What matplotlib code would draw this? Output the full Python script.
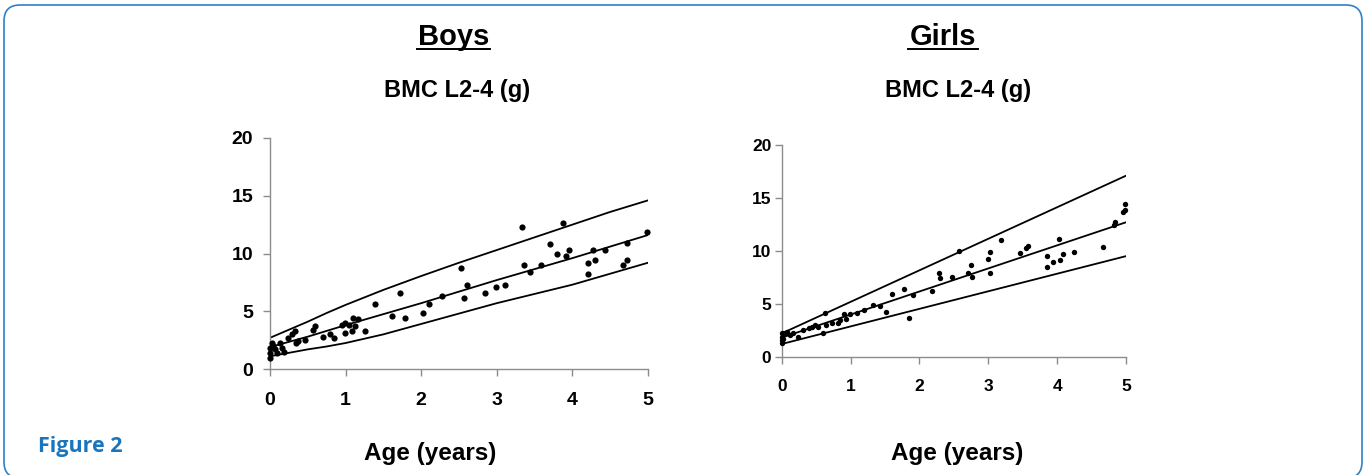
import matplotlib
matplotlib.use("Agg")
import matplotlib.pyplot as plt
from matplotlib.patches import FancyBboxPatch

plt.rcParams['font.family'] = ['Liberation Sans', 'DejaVu Sans']
plt.rcParams['font.weight'] = 'bold'

# reference curves (age in years, BMC in g)
boys_curve_x = [0, 0.25, 0.5, 0.75, 1, 1.5, 2, 2.5, 3, 3.5, 4, 4.5, 5]
boys_upper = [2.7, 3.4, 4.1, 4.85, 5.55, 6.85, 8.05, 9.2, 10.3, 11.4, 12.5, 13.6, 14.6]
boys_mid = [1.9, 2.35, 2.8, 3.3, 3.8, 4.75, 5.7, 6.7, 7.7, 8.65, 9.6, 10.6, 11.6]
boys_lower = [1.1, 1.4, 1.7, 1.95, 2.25, 3.0, 3.9, 4.8, 5.7, 6.5, 7.3, 8.25, 9.2]

girls_curve_x = [0, 5]
girls_upper = [2.2, 17.1]
girls_mid = [1.8, 12.7]
girls_lower = [1.2, 9.5]

# measured points
boys_age = [0, 0, 0, 0.02, 0.04, 0.07, 0.09, 0.13, 0.18, 0.16, 0.24, 0.29, 0.33,
            0.34, 0.37, 0.46, 0.57, 0.6, 0.7, 0.79, 0.84, 0.95, 0.99, 0.99, 1.04,
            1.08, 1.1, 1.12, 1.17, 1.26, 1.39, 1.61, 1.72, 1.78, 2.03, 2.1, 2.28,
            2.53, 2.57, 2.61, 2.85, 2.99, 3.11, 3.33, 3.36, 3.44, 3.59, 3.7, 3.79,
            3.88, 3.92, 3.96, 4.21, 4.21, 4.27, 4.3, 4.43, 4.67, 4.72, 4.72, 4.99]
boys_bmc = [0.95, 1.4, 1.8, 2.25, 1.95, 1.7, 1.4, 2.25, 1.5, 1.8, 2.7, 3.0, 3.3,
            2.25, 2.4, 2.55, 3.4, 3.7, 2.8, 3.0, 2.7, 3.8, 4.0, 3.1, 3.8,
            3.3, 4.4, 3.7, 4.3, 3.3, 5.6, 4.6, 6.6, 4.4, 4.85, 5.65, 6.3,
            8.75, 6.15, 7.3, 6.6, 7.1, 7.3, 12.3, 9.0, 8.4, 9.0, 10.8, 9.95,
            12.6, 9.8, 10.3, 8.25, 9.2, 10.3, 9.4, 10.3, 9.0, 10.95, 9.45, 11.9]

girls_age = [0, 0, 0, 0.01, 0.02, 0.05, 0.07, 0.12, 0.17, 0.24, 0.31, 0.39, 0.44,
             0.48, 0.53, 0.6, 0.63, 0.65, 0.73, 0.82, 0.85, 0.9, 0.94, 0.99, 1.09,
             1.19, 1.33, 1.43, 1.51, 1.6, 1.78, 1.85, 1.9, 2.18, 2.29, 2.3, 2.47,
             2.58, 2.71, 2.75, 2.76, 2.99, 3.02, 3.03, 3.19, 3.46, 3.55, 3.58, 3.85,
             3.85, 3.94, 4.03, 4.04, 4.08, 4.25, 4.67, 4.82, 4.84, 4.95, 4.99, 4.99]
girls_bmc = [2.2, 1.9, 1.6, 1.25, 1.7, 2.2, 2.35, 2.05, 2.2, 1.9, 2.5, 2.7, 2.85,
             3.0, 2.8, 2.25, 4.1, 3.0, 3.15, 3.15, 3.5, 4.0, 3.6, 4.0, 4.1,
             4.4, 4.9, 4.8, 4.2, 5.9, 6.35, 3.7, 5.8, 6.25, 7.9, 7.4, 7.55,
             10.0, 7.9, 8.65, 7.55, 9.2, 9.85, 7.95, 11.05, 9.75, 10.25, 10.45, 9.5,
             8.45, 8.9, 11.1, 9.15, 9.7, 9.9, 10.35, 12.45, 12.75, 13.7, 14.4, 13.85]

x_ticks = [0, 1, 2, 3, 4, 5]
y_ticks = [0, 5, 10, 15, 20]

W, H = 1364, 475
fig = plt.figure(figsize=(W / 100, H / 100), dpi=100)

# background layer in pixel coordinates
bg = fig.add_axes([0, 0, 1, 1])
bg.set_xlim(0, W)
bg.set_ylim(H, 0)
bg.axis('off')
bg.add_patch(FancyBboxPatch((4, 5), 1358, 473,
                            boxstyle="round,pad=0,rounding_size=16",
                            fc='white', ec='#2f80c8', lw=1.2))
bg.text(38, 452, "Figure 2", fontsize=15.5, color='#1b75bc', ha='left',
        va='baseline', family=['Open Sans', 'DejaVu Sans'], fontweight='bold')


def panel(rect, title, t_x, ul, sub_x, age_x, ages, bmc, cx, up, mid, lo,
          tick_fs, ms, ypad, xpad):
    bg.text(t_x, 45, title, fontsize=21, ha='center', va='baseline')
    bg.plot(ul, [49, 49], color='black', lw=1.4)
    bg.text(sub_x, 97, "BMC L2-4 (g)", fontsize=17, ha='center', va='baseline')
    bg.text(age_x, 460, "Age (years)", fontsize=17.5, ha='center', va='baseline')

    ax = fig.add_axes(rect)
    ax.patch.set_alpha(0)
    for yv in (up, mid, lo):
        ax.plot(cx, yv, color='black', lw=1.3, solid_joinstyle='round')
    ax.scatter(ages, bmc, s=ms, color='black', zorder=3, clip_on=False,
               linewidths=0)
    ax.set_xlim(0, 5)
    ax.set_ylim(0, 20)
    ax.set_xticks(x_ticks)
    ax.set_yticks(y_ticks)
    for s in ('top', 'right'):
        ax.spines[s].set_visible(False)
    for s in ('left', 'bottom'):
        ax.spines[s].set_color('#8c8c8c')
        ax.spines[s].set_linewidth(1.0)
    ax.tick_params(axis='both', colors='#8c8c8c', length=5, width=1.0,
                   labelcolor='black', labelsize=tick_fs)
    ax.tick_params(axis='y', pad=ypad)
    ax.tick_params(axis='x', pad=xpad)
    for lab in ax.get_xticklabels() + ax.get_yticklabels():
        lab.set_fontweight('bold')
    return ax


panel([270 / W, 1 - 369 / H, 378 / W, 231 / H], "Boys", 453.5, [417, 490],
      457, 430, boys_age, boys_bmc, boys_curve_x, boys_upper, boys_mid,
      boys_lower, 14, 20, 7, 11.5)
panel([781.7 / W, 1 - 356.7 / H, 344.3 / W, 211.7 / H], "Girls", 943, [908, 978],
      958, 957, girls_age, girls_bmc, girls_curve_x, girls_upper, girls_mid,
      girls_lower, 12.5, 15, 2.5, 11)

fig.savefig("out.png", dpi=100)
